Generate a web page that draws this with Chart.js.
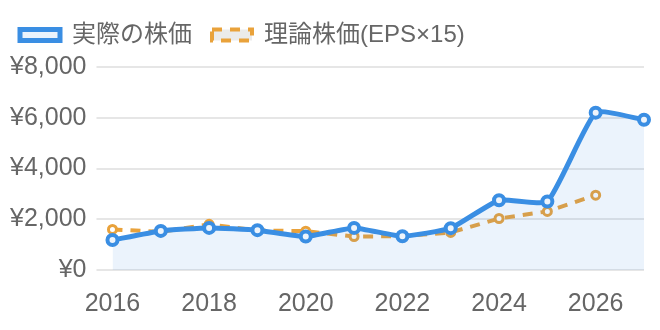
<!DOCTYPE html>
<html>
<head>
<meta charset="utf-8">
<script src="https://cdn.jsdelivr.net/npm/chart.js@4"></script>
<style>
  html, body { margin: 0; padding: 0; background: #fff; }
  #wrap { width: 660px; height: 330px; }
</style>
</head>
<body>
<div id="wrap"><canvas id="chart"></canvas></div>
<script>
const years = ["2016", "2017", "2018", "2019", "2020", "2021", "2022", "2023", "2024", "2025", "2026", "2027"];
const actualPrice = [1180, 1540, 1660, 1570, 1320, 1660, 1330, 1650, 2750, 2700, 6200, 5920];
const theoryPrice = [1600, 1500, 1800, 1560, 1530, 1320, 1330, 1480, 2030, 2310, 2950, null];
const yTicks = [0, 2000, 4000, 6000, 8000];

const blue = "#3a8ee3";
const orange = "#e9a23b";
const font = "'Liberation Sans', 'Noto Sans CJK JP', sans-serif";

Chart.defaults.font.family = font;
Chart.defaults.color = "#666";

// a bit of extra space under the legend
const legendGap = {
  id: "legendGap",
  beforeInit(chart) {
    const fit = chart.legend.fit;
    chart.legend.fit = function () {
      fit.bind(chart.legend)();
      this.height += 10;
    };
  },
};

new Chart(document.getElementById("chart").getContext("2d"), {
  type: "line",
  data: {
    labels: years,
    datasets: [
      {
        label: "実際の株価",
        data: actualPrice,
        borderColor: blue,
        backgroundColor: "rgba(58, 142, 227, 0.1)",
        borderWidth: 5,
        tension: 0.15,
        fill: "origin",
        pointRadius: 5,
        pointBorderWidth: 4,
        pointBackgroundColor: "#eef4fb",
        pointBorderColor: blue,
      },
      {
        label: "理論株価(EPS×15)",
        data: theoryPrice,
        borderColor: orange,
        backgroundColor: "rgba(0, 0, 0, 0.08)",
        borderWidth: 4,
        borderDash: [10, 8],
        tension: 0,
        fill: false,
        pointRadius: 4,
        pointBorderWidth: 3,
        pointBackgroundColor: "#fff",
        pointBorderColor: orange,
      },
    ],
  },
  options: {
    responsive: true,
    maintainAspectRatio: false,
    animation: false,
    layout: { padding: { top: 3, right: 14, bottom: 0 } },
    scales: {
      y: {
        min: 0,
        max: 8000,
        border: { display: false },
        grid: { color: "#e6e6e6", lineWidth: 2, tickLength: 16 },
        afterBuildTicks: (axis) => {
          axis.ticks = yTicks.map((v) => ({ value: v }));
        },
        ticks: {
          padding: 10,
          font: { size: 25 },
          callback: (value) => "¥" + value.toLocaleString("en-US"),
        },
      },
      x: {
        border: { display: false },
        grid: { display: false },
        ticks: {
          autoSkip: false,
          maxRotation: 0,
          padding: 16,
          font: { size: 25, lineHeight: 0.8 },
          callback: function (value, index) {
            return index % 2 === 0 ? this.getLabelForValue(value) : "";
          },
        },
      },
    },
    plugins: {
      legend: {
        display: true,
        position: "top",
        align: "start",
        labels: {
          boxWidth: 40,
          boxHeight: 11,
          padding: 20,
          font: { size: 24 },
          color: "#666",
        },
      },
      tooltip: { enabled: false },
    },
  },
  plugins: [legendGap],
});
</script>
</body>
</html>
